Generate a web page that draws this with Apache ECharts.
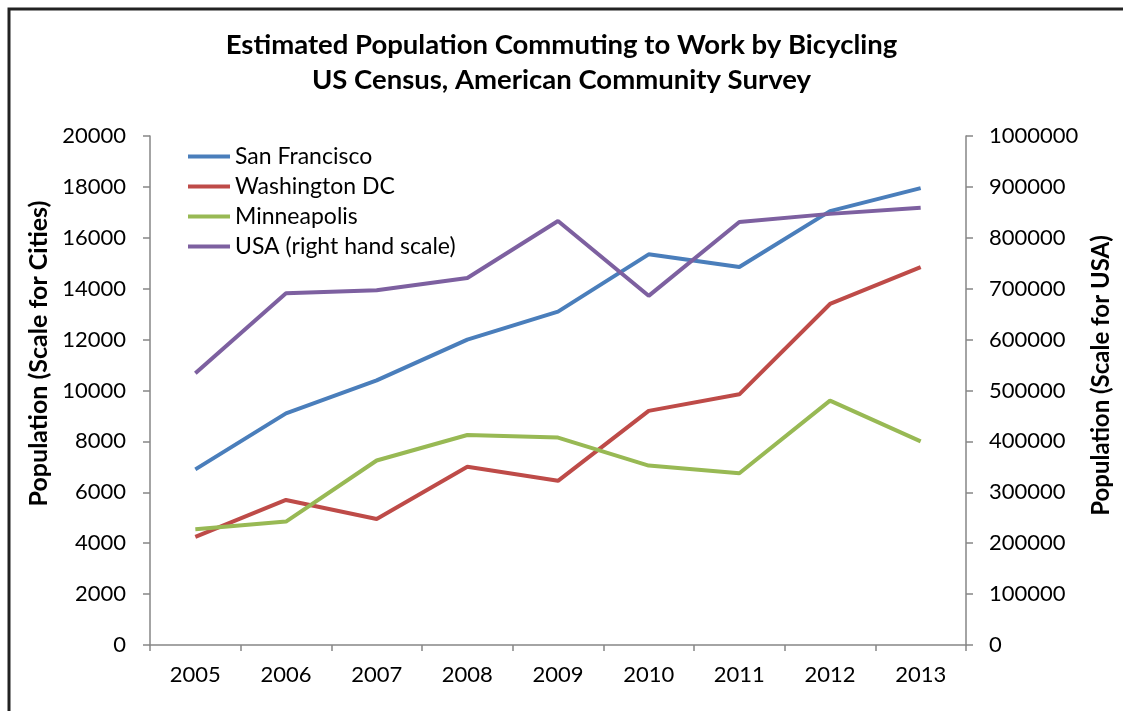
<!DOCTYPE html>
<html>
<head>
<meta charset="utf-8">
<script src="https://cdn.jsdelivr.net/npm/echarts@6/dist/echarts.min.js"></script>
<style>
  html, body { margin: 0; padding: 0; background: #fff; }
  #chart { width: 1123px; height: 711px; }
</style>
</head>
<body>
<div id="chart"></div>
<script>
// years on the x axis
const years = ["2005", "2006", "2007", "2008", "2009", "2010", "2011", "2012", "2013"];
// left scale (cities)
const sanFrancisco = [6900, 9100, 10400, 12000, 13100, 15350, 14850, 17050, 17950];
const washingtonDC = [4250, 5700, 4950, 7000, 6450, 9200, 9850, 13400, 14850];
const minneapolis = [4550, 4850, 7250, 8250, 8150, 7050, 6750, 9600, 8000];
// right scale (whole country)
const usa = [534000, 691000, 697000, 721000, 833000, 686000, 831000, 847000, 859000];

const font = "Lato, 'Open Sans', sans-serif";
const axisGray = "#868686";

const chart = echarts.init(document.getElementById("chart"));

function line(name, data, color, yIndex) {
  return {
    name: name,
    type: "line",
    data: data,
    yAxisIndex: yIndex,
    symbol: "none",
    animation: false,
    lineStyle: { color: color, width: 4 },
    itemStyle: { color: color },
  };
}

// plain numbers, no thousands separator
const plain = (v) => String(v);

const option = {
  backgroundColor: "#fff",
  textStyle: { fontFamily: font },
  title: {
    text: "Estimated Population Commuting to Work by Bicycling\nUS Census, American Community Survey",
    left: "center",
    top: 23,
    textStyle: {
      fontSize: 27.5,
      fontWeight: "bold",
      color: "#000",
      lineHeight: 35,
      fontFamily: font,
    },
  },
  legend: {
    orient: "vertical",
    left: 183,
    top: 140,
    icon: "rect",
    itemWidth: 42,
    itemHeight: 4,
    itemGap: 7,
    textStyle: { fontSize: 23, color: "#000", fontFamily: font },
    data: ["San Francisco", "Washington DC", "Minneapolis", "USA (right hand scale)"],
  },
  grid: { left: 150, right: 157, top: 136, bottom: 66 },
  xAxis: {
    type: "category",
    data: years,
    boundaryGap: true,
    axisLine: { lineStyle: { color: axisGray, width: 1.5 } },
    axisTick: { show: true, length: 6, lineStyle: { color: axisGray, width: 1.5 } },
    axisLabel: { color: "#000", fontSize: 22, margin: 19, fontFamily: font },
  },
  yAxis: [
    {
      type: "value",
      min: 0,
      max: 20000,
      interval: 2000,
      name: "Population (Scale for Cities)",
      nameLocation: "middle",
      nameGap: 86,
      nameTextStyle: {
        fontSize: 25,
        fontWeight: "bold",
        color: "#000",
        fontFamily: font,
        padding: [0, 0, 0, 74],
      },
      splitLine: { show: false },
      axisLine: { show: true, lineStyle: { color: axisGray, width: 1.5 } },
      axisTick: { show: true, length: 7, lineStyle: { color: axisGray, width: 1.5 } },
      axisLabel: { color: "#000", fontSize: 22, margin: 24, fontFamily: font, formatter: plain },
    },
    {
      type: "value",
      position: "right",
      min: 0,
      max: 1000000,
      interval: 100000,
      name: "Population (Scale for USA)",
      nameLocation: "middle",
      nameGap: 111,
      nameRotate: 90,
      nameTextStyle: {
        fontSize: 24,
        fontWeight: "bold",
        color: "#000",
        fontFamily: font,
        padding: [0, 0, 0, 30],
      },
      splitLine: { show: false },
      axisLine: { show: true, lineStyle: { color: axisGray, width: 1.5 } },
      axisTick: { show: true, length: 7, lineStyle: { color: axisGray, width: 1.5 } },
      axisLabel: { color: "#000", fontSize: 22, margin: 23, fontFamily: font, formatter: plain },
    },
  ],
  graphic: [
    {
      type: "rect",
      silent: true,
      shape: { x: 9, y: 9, width: 1300, height: 900 },
      style: { fill: "none", stroke: "#222", lineWidth: 3 },
    },
  ],
  series: [
    line("San Francisco", sanFrancisco, "#4a7ebb", 0),
    line("Washington DC", washingtonDC, "#be4b48", 0),
    line("Minneapolis", minneapolis, "#98b954", 0),
    line("USA (right hand scale)", usa, "#7d60a0", 1),
  ],
};

chart.setOption(option);
</script>
</body>
</html>
